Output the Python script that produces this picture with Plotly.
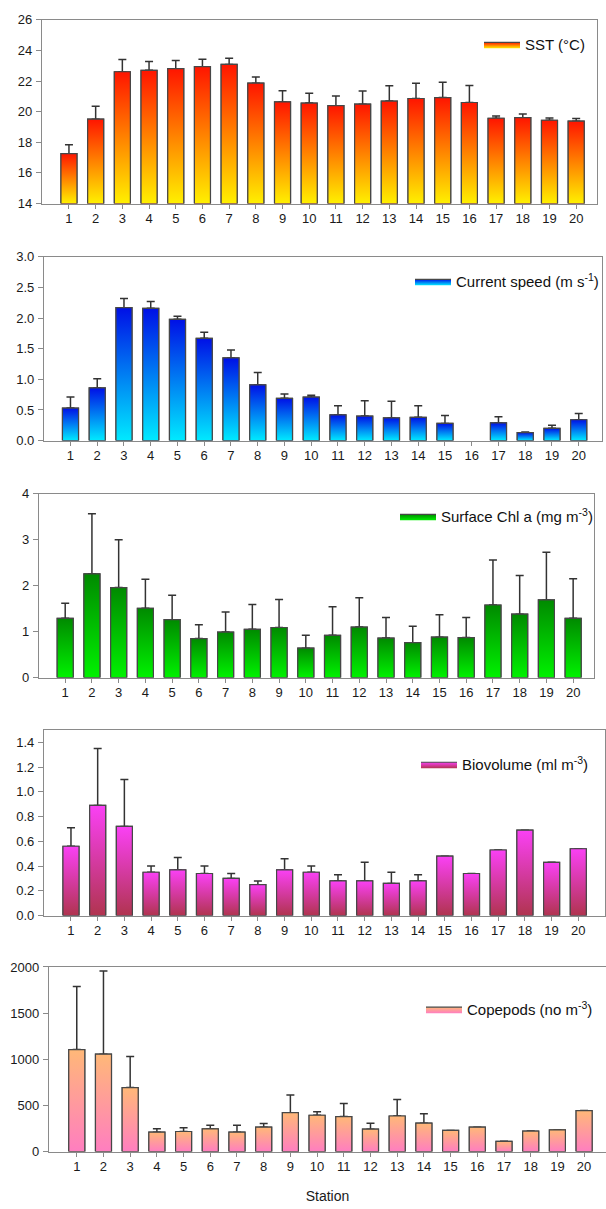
import plotly.graph_objects as go

# ---------------- data ----------------
stations = list(range(1, 21))
station_labels = [str(s) for s in stations]

sst_mean = [17.26, 19.51, 22.61, 22.70, 22.81, 22.94, 23.09, 21.86, 20.64, 20.56,
            20.39, 20.49, 20.69, 20.86, 20.92, 20.60, 19.57, 19.61, 19.44, 19.38]
sst_err = [0.58, 0.85, 0.80, 0.58, 0.53, 0.49, 0.40, 0.41, 0.73, 0.64,
           0.64, 0.86, 1.00, 1.00, 1.01, 1.11, 0.15, 0.24, 0.15, 0.17]

cur_mean = [0.53, 0.86, 2.17, 2.16, 1.98, 1.67, 1.35, 0.91, 0.69, 0.71,
            0.42, 0.40, 0.37, 0.38, 0.28, None, 0.29, 0.13, 0.20, 0.34]
cur_err = [0.18, 0.15, 0.15, 0.11, 0.05, 0.10, 0.13, 0.20, 0.07, 0.03,
           0.15, 0.25, 0.27, 0.19, 0.13, None, 0.10, 0.01, 0.05, 0.10]

chl_mean = [1.29, 2.26, 1.96, 1.51, 1.26, 0.85, 0.99, 1.05, 1.09, 0.64,
            0.92, 1.10, 0.86, 0.76, 0.88, 0.87, 1.58, 1.38, 1.69, 1.29]
chl_err = [0.33, 1.31, 1.04, 0.63, 0.53, 0.30, 0.44, 0.54, 0.61, 0.28,
           0.62, 0.64, 0.45, 0.36, 0.49, 0.44, 0.98, 0.84, 1.04, 0.86]

bio_mean = [0.56, 0.89, 0.72, 0.35, 0.37, 0.34, 0.30, 0.25, 0.37, 0.35,
            0.28, 0.28, 0.26, 0.28, 0.48, 0.34, 0.53, 0.69, 0.43, 0.54]
bio_err = [0.15, 0.46, 0.38, 0.05, 0.10, 0.06, 0.04, 0.03, 0.09, 0.05,
           0.05, 0.15, 0.09, 0.05, None, None, None, None, None, None]

cop_mean = [1105, 1055, 694, 211, 218, 247, 211, 265, 422, 394,
            379, 243, 386, 308, 229, 265, 111, 222, 236, 444]
cop_err = [684, 902, 336, 36, 40, 39, 75, 39, 190, 39,
           143, 65, 179, 103, None, None, None, None, None, None]

sst_ticks = [14, 16, 18, 20, 22, 24, 26]
cur_ticks = [0.0, 0.5, 1.0, 1.5, 2.0, 2.5, 3.0]
chl_ticks = [0, 1, 2, 3, 4]
bio_ticks = [0.0, 0.2, 0.4, 0.6, 0.8, 1.0, 1.2, 1.4]
cop_ticks = [0, 500, 1000, 1500, 2000]

labels = ["SST (°C)", "Current speed (m s<sup>-1</sup>)", "Surface Chl a (mg m<sup>-3</sup>)",
          "Biovolume (ml m<sup>-3</sup>)", "Copepods (no m<sup>-3</sup>)"]

# ---------------- styling ----------------
W, H = 606, 1209
FONT = "Liberation Sans, Arial, sans-serif"
AXIS_COLOR = "#8a8a8a"
EDGE = "#474747"
HALF = 0.3  # half bar width in category units

panels = [
    dict(mean=sst_mean, err=sst_err, ticks=sst_ticks, fmt="d", yr=[14, 26],
         L=42, R=597, T=13, B=199, xr=[-0.01, 20.78], mirror_y=True,
         grad=["#FFF000", "#FF1500"], leg=(590, 38)),
    dict(mean=cur_mean, err=cur_err, ticks=cur_ticks, fmt=".1f", yr=[0, 3],
         L=44, R=602, T=253, B=439, xr=[0.01, 20.87], mirror_y=True,
         grad=["#00EAFF", "#0010E6"], leg=(604, 278)),
    dict(mean=chl_mean, err=chl_err, ticks=chl_ticks, fmt="d", yr=[0, 4],
         L=39, R=594, T=493, B=679, xr=[0.02, 20.78], mirror_y=True,
         grad=["#00F200", "#008A00"], leg=(598, 516)),
    dict(mean=bio_mean, err=bio_err, ticks=bio_ticks, fmt=".1f", yr=[0, 1.5],
         L=44, R=605, T=732, B=920, xr=[-0.01, 21.0], mirror_y=True,
         grad=["#B0344F", "#FA40F5"], leg=(594, 767)),
    dict(mean=cop_mean, err=cop_err, ticks=cop_ticks, fmt="d", yr=[0, 2000],
         L=49, R=606, T=972, B=1159, xr=[-0.04, 20.82], mirror_y=False,
         grad=["#FF7EC0", "#FFB878"], leg=(598, 1015)),
]

fig = go.Figure()
layout = {}

for k, p in enumerate(panels, start=1):
    sfx = "" if k == 1 else str(k)
    xa, ya, lg = "x" + sfx, "y" + sfx, "legend" + sfx
    base = p["yr"][0]

    # bars with one-sided error bars
    fig.add_trace(go.Bar(
        x=stations, y=p["mean"], xaxis=xa, yaxis=ya, width=2 * HALF,
        marker=dict(color=p["grad"][1], line=dict(color=EDGE, width=1.2)),
        error_y=dict(type="data", symmetric=False, array=p["err"],
                     arrayminus=[0 if e is not None else None for e in p["err"]],
                     color="#333333", thickness=1.5, width=4),
        showlegend=False, hoverinfo="x+y"))

    # gradient fill of every bar (drawn on the data axes from the values)
    first = True
    for s, v in zip(stations, p["mean"]):
        if v is None:
            continue
        fig.add_trace(go.Scatter(
            x=[s - HALF, s - HALF, s + HALF, s + HALF, s - HALF],
            y=[base, v, v, base, base], xaxis=xa, yaxis=ya,
            mode="lines", fill="toself",
            fillgradient=dict(type="vertical",
                              colorscale=[[0, p["grad"][0]], [1, p["grad"][1]]]),
            line=dict(color=EDGE, width=1.2),
            name=labels[k - 1], legend=lg, showlegend=first, hoverinfo="skip"))
        first = False

    layout["xaxis" + sfx] = dict(
        domain=[p["L"] / W, min(p["R"] / W, 1.0)], range=p["xr"], anchor=ya,
        tickmode="array", tickvals=stations, ticktext=station_labels,
        ticks="outside", ticklen=4, tickcolor=AXIS_COLOR, tickwidth=1,
        showline=True, linecolor=AXIS_COLOR, linewidth=1.3, mirror=True,
        showgrid=False, zeroline=False, ticklabelstandoff=-1,
        tickfont=dict(family=FONT, size=13, color="#1a1a1a"))
    layout["yaxis" + sfx] = dict(
        domain=[1 - p["B"] / H, 1 - p["T"] / H], range=p["yr"], anchor=xa,
        tickmode="array", tickvals=p["ticks"], tickformat=p["fmt"],
        ticks="outside", ticklen=5, tickcolor=AXIS_COLOR, tickwidth=1,
        showline=True, linecolor=AXIS_COLOR, linewidth=1.3, mirror=p["mirror_y"],
        showgrid=False, zeroline=False, ticklabelstandoff=1,
        tickfont=dict(family=FONT, size=13, color="#1a1a1a"))
    lx, ly = p["leg"]
    layout[lg] = dict(x=lx / W, y=1 - ly / H, xanchor="right", yanchor="middle",
                      bgcolor="rgba(0,0,0,0)", borderwidth=0, itemwidth=36,
                      font=dict(family=FONT, size=15, color="#111111"))

layout["xaxis5"]["title"] = dict(text="Station", standoff=17,
                                 font=dict(family=FONT, size=14, color="#1a1a1a"))

fig.update_layout(width=W, height=H, margin=dict(l=0, r=0, t=0, b=0),
                  paper_bgcolor="white", plot_bgcolor="white",
                  barmode="overlay", **layout)

fig.write_html("out.html")
